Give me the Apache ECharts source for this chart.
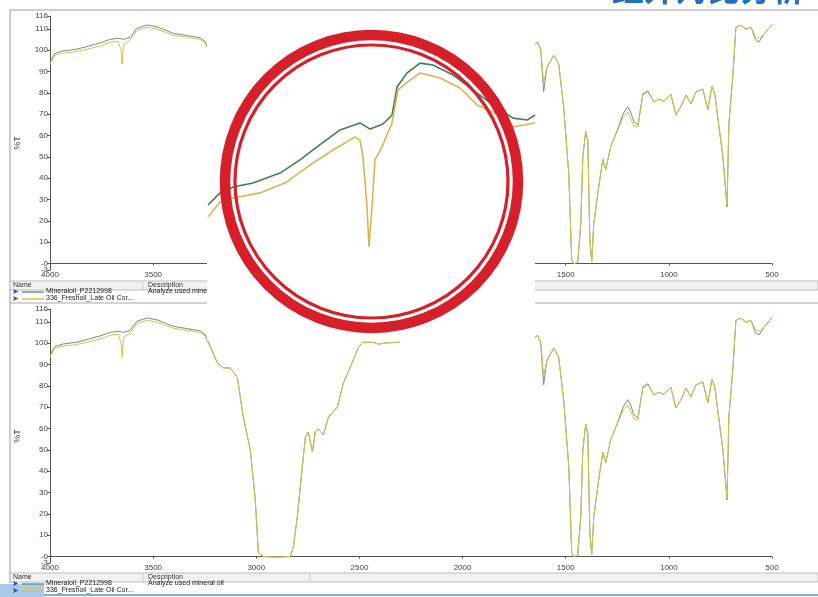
<!DOCTYPE html>
<html>
<head>
<meta charset="utf-8">
<script src="https://cdn.jsdelivr.net/npm/echarts@6/dist/echarts.min.js"></script>
<style>
  html, body { margin: 0; padding: 0; background: #fff; }
  #main { width: 818px; height: 597px; }
</style>
</head>
<body>
<div id="main"></div>
<script>
// wavenumbers (cm-1) shared by both spectra
var wavenumbers = [4000, 3976, 3937, 3880, 3840, 3757, 3709, 3670, 3655, 3650, 3645, 3641, 3612, 3578, 3529, 3481, 3403, 3335, 3272, 3248,
  3223, 3189, 3160, 3126, 3092, 3063, 3029, 3005, 2990, 2966, 2900, 2835, 2820, 2801, 2777, 2762, 2748, 2728, 2714, 2699,
  2675, 2650, 2607, 2578, 2544, 2505, 2485, 2432, 2408, 2383, 2315, 2200, 2000, 1800, 1700, 1650, 1636, 1621, 1607, 1592,
  1558, 1534, 1510, 1485, 1471, 1461, 1442, 1427, 1417, 1403, 1393, 1383, 1374, 1364, 1340, 1320, 1306, 1282, 1248, 1220,
  1199, 1185, 1170, 1150, 1126, 1102, 1073, 1049, 1024, 990, 966, 942, 917, 893, 869, 835, 811, 791, 777, 762,
  738, 718, 709, 689, 675, 650, 626, 602, 580, 563, 539, 500];
// %T, Mineraloil_P2212998 (green)
var mineralT = [94.5, 98.5, 99.6, 100.3, 101.2, 103.4, 105, 105.6, 105.3, 104.8, 105, 105.4, 106, 110.3, 111.8, 110.9, 107.9, 106.8, 105.8, 104,
  98.4, 90.9, 88.4, 88.4, 84, 65.4, 50, 26.6, 1.9, 0, -0.2, 0, 4.7, 18.7, 42, 56, 58.4, 49, 58.4, 59.8,
  57, 65.4, 70, 81.3, 88.8, 98, 100.4, 100.4, 99.5, 100, 100.4, 100.6, 100.8, 100.7, 101.2, 102.6, 103.7, 100, 80.5, 91.5,
  97.7, 93.5, 73.4, 42, 1.9, 0, 0.5, 18.7, 50, 62, 58, 11.2, 1, 18.7, 36, 49, 44, 54.7, 63, 70.5,
  73.5, 71, 66.5, 65, 79.5, 81, 75.7, 77, 76, 79.4, 69.6, 73.4, 79, 74.8, 80.4, 81.8, 72, 83.2, 79.4, 67.8,
  50, 26.5, 65.4, 88.8, 110.7, 111.7, 109.8, 110.7, 105, 103.8, 107.5, 112];
// %T, 336_Freshoil_Late Oil Cor... (yellow)
var freshT = [93.5, 97.7, 98.6, 99.2, 100, 101.9, 103.7, 104.2, 100, 93.5, 100.5, 102.8, 104.7, 109.3, 110.7, 109.8, 107, 106, 105, 103.3,
  98, 90.7, 88.3, 88.3, 84, 65.4, 50, 26.6, 1.9, 0, -0.2, 0, 4.7, 18.7, 42, 56, 58.4, 49, 58.4, 59.8,
  57, 65.4, 70, 81.3, 88.8, 98, 100.4, 100.4, 99.5, 100, 100.4, 100.6, 100.8, 100.7, 101.2, 102.6, 103.7, 100.5, 84.5, 92,
  97.7, 93.5, 73.4, 42, 1.9, 0, 0.5, 18.7, 50, 62, 58, 11.2, 1, 18.7, 36, 49, 44, 54.7, 62.6, 69,
  71, 68, 64.5, 64, 79, 80.4, 75.7, 77, 76, 79.4, 69.6, 73.4, 79, 74.8, 80.4, 81.8, 72, 83.2, 79.4, 67.8,
  50, 27.6, 65.4, 88.8, 110.7, 111.7, 109.8, 110.7, 106.5, 105.5, 107.5, 112];

// magnified view inside the red circle (zoomed scale)
var insetMineralWn = [3827, 3815, 3802, 3782, 3755, 3735, 3718, 3695, 3675, 3665, 3652, 3643, 3638, 3628, 3615, 3602, 3582, 3558, 3542, 3522, 3508, 3500];
var insetMineralT = [25, 30.5, 33.2, 35, 39.5, 45.5, 51.4, 59.1, 62.3, 59.5, 61.8, 65.9, 78.6, 85, 89.5, 88.6, 84.1, 75.9, 70.5, 64.5, 63.6, 65.9];
var insetFreshWn = [3827, 3815, 3802, 3775, 3748, 3725, 3702, 3680, 3675, 3672, 3668, 3666, 3663, 3660, 3653, 3643, 3637, 3625, 3615, 3595, 3575, 3558, 3542, 3522, 3500];
var insetFreshT = [19.5, 26.4, 28.2, 30.5, 35.5, 43.2, 50, 55.9, 54.5, 46.8, 24.1, 5.9, 24.1, 45.5, 51.4, 62.3, 77.3, 81.8, 85, 82.7, 78.2, 70.5, 67.3, 60.5, 62.3];

var yTicks = [0, 10, 20, 30, 40, 50, 60, 70, 80, 90, 100, 110, 116];
var yMinTick = [-3];
var xTicks = [4000, 3500, 3000, 2500, 2000, 1500, 1000, 500];
var seriesNames = ['Mineraloil_P2212998', '336_Freshoil_Late Oil Cor...'];
var description = 'Analyze used mineral oil';

var GREEN = '#5f9c7c', YELLOW = '#e4bb45', RED = '#d71f29';
var FONT = 'Liberation Sans';

function pairs(xs, ys) {
  return xs.map(function (x, i) { return [x, ys[i]]; });
}

function makeX(gi, showName) {
  return {
    type: 'value', gridIndex: gi, inverse: true, min: 500, max: 4000,
    name: showName ? 'cm-1' : '', nameLocation: 'middle', nameGap: 4,
    nameTextStyle: { fontFamily: FONT, fontSize: 10, color: '#333' },
    axisLine: { lineStyle: { color: '#555', width: 1 } },
    axisTick: { show: true, length: 2, customValues: xTicks, lineStyle: { color: '#555' } },
    axisLabel: {
      customValues: xTicks, fontFamily: FONT, fontSize: 8, color: '#444', margin: 1,
      formatter: function (v) { return String(v); }
    },
    splitLine: { show: false }
  };
}
function makeY(gi, ticks, main) {
  return {
    type: 'value', gridIndex: gi, min: -3, max: 116, position: 'left', offset: 0,
    name: main ? '%T' : '', nameLocation: 'middle', nameGap: 28, nameRotate: 90,
    nameTextStyle: { fontFamily: FONT, fontSize: 9, color: '#333' },
    axisLine: { show: main, onZero: false, lineStyle: { color: '#555', width: 1 } },
    axisTick: { show: true, length: 3, customValues: ticks, lineStyle: { color: '#555' } },
    axisLabel: {
      customValues: ticks, fontFamily: FONT, fontSize: 8, color: '#444', margin: 2,
      hideOverlap: false, showMinLabel: true, showMaxLabel: true,
      formatter: function (v) { return v === 0 ? '-0' : String(v); }
    },
    splitLine: { show: false }
  };
}
function spec(gi, name, data, color, z) {
  return {
    type: 'line', name: name, xAxisIndex: gi, yAxisIndex: gi, data: data,
    showSymbol: false, symbol: 'none', animation: false, z: z,
    lineStyle: { color: color, width: 1 }
  };
}

// legend table below each panel
function table(y0) {
  var els = [];
  els.push({ type: 'rect', shape: { x: 10, y: y0, width: 808, height: 9 }, style: { fill: '#f1f1f1', stroke: '#bdbdbd', lineWidth: 1 }, z: 5 });
  els.push({ type: 'line', shape: { x1: 143, y1: y0, x2: 143, y2: y0 + 9 }, style: { stroke: '#d0d0d0' }, z: 6 });
  els.push({ type: 'line', shape: { x1: 310, y1: y0, x2: 310, y2: y0 + 9 }, style: { stroke: '#d0d0d0' }, z: 6 });
  els.push({ type: 'text', x: 13, y: y0 + 1, style: { text: 'Name', fontFamily: FONT, fontSize: 7, fill: '#333' }, z: 6 });
  els.push({ type: 'text', x: 148, y: y0 + 1, style: { text: 'Description', fontFamily: FONT, fontSize: 7, fill: '#333' }, z: 6 });
  var cols = [GREEN, YELLOW];
  for (var i = 0; i < 2; i++) {
    var ry = y0 + 11 + i * 7;
    els.push({ type: 'text', x: 12, y: ry - 4, style: { text: '➤', fontFamily: 'DejaVu Sans', fontSize: 8, fill: '#1f4fa8' }, z: 6 });
    els.push({ type: 'line', shape: { x1: 22, y1: ry, x2: 44, y2: ry }, style: { stroke: cols[i], lineWidth: 1.5 }, z: 6 });
    els.push({ type: 'text', x: 46, y: ry - 4, style: { text: seriesNames[i], fontFamily: FONT, fontSize: 7, fill: '#222' }, z: 6 });
  }
  els.push({ type: 'text', x: 148, y: y0 + 7, style: { text: description, fontFamily: FONT, fontSize: 7, fill: '#222' }, z: 6 });
  return els;
}

var chart = echarts.init(document.getElementById('main'), null, { renderer: 'canvas' });

var graphics = [
  // title, cut off by the top of the slide
  { type: 'text', x: 612, y: -27, style: { text: '红外对比分析', fontFamily: 'Noto Sans CJK SC', fontSize: 32, fontWeight: 'bold', fill: '#1f6fc3' }, z: 4 },
  { type: 'line', shape: { x1: 10, y1: 10, x2: 818, y2: 10 }, style: { stroke: '#9c9c9c' }, z: 4 },
  { type: 'line', shape: { x1: 10, y1: 10, x2: 10, y2: 583 }, style: { stroke: '#9c9c9c' }, z: 4 },
  { type: 'line', shape: { x1: 10, y1: 303, x2: 818, y2: 303 }, style: { stroke: '#a8a8a8' }, z: 4 },
  { type: 'line', shape: { x1: 0, y1: 595, x2: 818, y2: 595 }, style: { stroke: '#7fb0dd', lineWidth: 2 }, z: 4 },
  { type: 'rect', shape: { x: 0, y: 584, width: 44, height: 13 }, style: { fill: '#a9c9e8' }, z: 5 }
].concat(table(281), table(573));

// white cover over the middle of the screenshot
graphics.push({ type: 'rect', shape: { x: 207, y: 11, width: 328, height: 329 }, style: { fill: '#fff' }, z: 50 });
graphics.push({ type: 'rect', shape: { x: 400, y: 339, width: 135, height: 7 }, style: { fill: '#fff' }, z: 50 });
// magnifier rings
graphics.push({ type: 'circle', shape: { cx: 371.5, cy: 181.5, r: 146.5 }, style: { fill: 'none', stroke: RED, lineWidth: 10.5 }, z: 70 });
graphics.push({ type: 'circle', shape: { cx: 371.5, cy: 181.5, r: 136.5 }, style: { fill: 'none', stroke: RED, lineWidth: 3.2 }, z: 70 });

var option = {
  backgroundColor: '#fff',
  animation: false,
  grid: [
    { left: 50, top: 16, width: 722, height: 254 },
    { left: 50, top: 309, width: 722, height: 254 },
    { left: 207, top: 40, width: 328, height: 220 }
  ],
  xAxis: [
    makeX(0, false),
    makeX(1, true),
    { type: 'value', gridIndex: 2, inverse: true, min: 3500, max: 3828, show: false }
  ],
  yAxis: [
    makeY(0, yTicks, true),
    makeY(1, yTicks, true),
    { type: 'value', gridIndex: 2, min: 0, max: 100, show: false },
    makeY(0, yMinTick, false),
    makeY(1, yMinTick, false)
  ],
  series: [
    spec(0, seriesNames[0], pairs(wavenumbers, mineralT), GREEN, 2),
    spec(0, seriesNames[1], pairs(wavenumbers, freshT), YELLOW, 3),
    spec(1, seriesNames[0], pairs(wavenumbers, mineralT), GREEN, 2),
    spec(1, seriesNames[1], pairs(wavenumbers, freshT), YELLOW, 3),
    {
      type: 'line', xAxisIndex: 2, yAxisIndex: 2, data: pairs(insetMineralWn, insetMineralT),
      showSymbol: false, symbol: 'none', z: 60, lineStyle: { color: '#3f7f5a', width: 1.6 }
    },
    {
      type: 'line', xAxisIndex: 2, yAxisIndex: 2, data: pairs(insetFreshWn, insetFreshT),
      showSymbol: false, symbol: 'none', z: 61, lineStyle: { color: '#e2b34c', width: 1.6 }
    }
  ],
  graphic: graphics
};

chart.setOption(option);
</script>
</body>
</html>
